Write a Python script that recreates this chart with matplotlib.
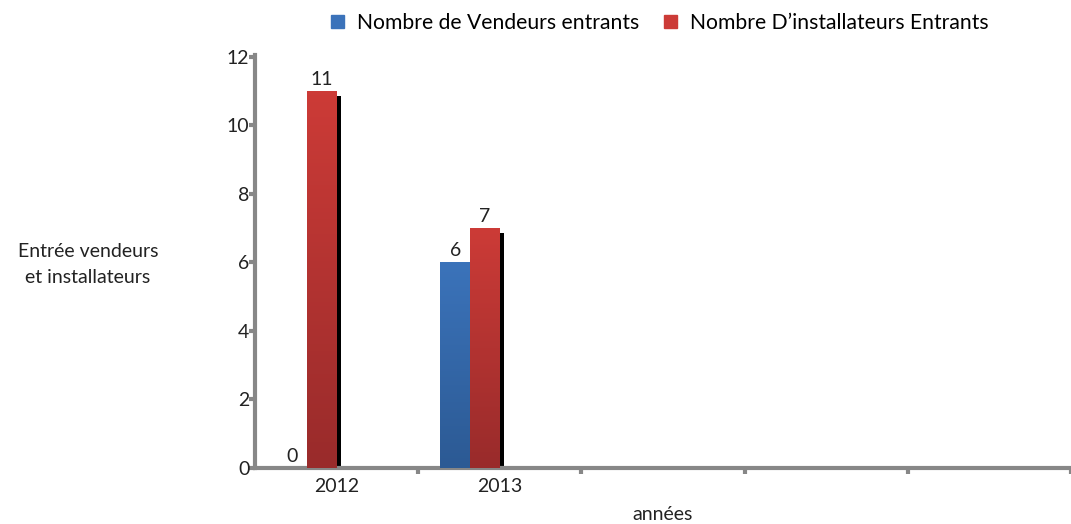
import numpy as np
import matplotlib
matplotlib.use('Agg')
from matplotlib import pyplot as plt
from matplotlib.patches import Patch

plt.rcParams['font.family'] = ['Lato', 'DejaVu Sans']

# donnees
annees = ['2012', '2013', '', '', '']
vendeurs = [0, 6]
installateurs = [11, 7]
serie_noms = ['Nombre de Vendeurs entrants', "Nombre D\u2019installateurs Entrants"]
yticks = [0, 2, 4, 6, 8, 10, 12]

bleu_haut, bleu_bas = '#3b73ba', '#2c5a94'
rouge_haut, rouge_bas = '#cc3b37', '#992b2b'
gris = '#878787'
noir_txt = '#222222'


def barre_degrade(ax, x, h, w, c_haut, c_bas):
    """barre avec un degrade vertical et une ombre noire"""
    if h <= 0:
        return
    # ombre
    ax.bar(x + w * 0.13, h - 0.15, width=w, bottom=0, color='black', zorder=2)
    rect = ax.bar(x, h, width=w, color=c_bas, zorder=3)[0]
    grad = np.linspace(0, 1, 100).reshape(-1, 1)
    cmap = matplotlib.colors.LinearSegmentedColormap.from_list('g', [c_bas, c_haut])
    im = ax.imshow(grad, extent=(x - w / 2, x + w / 2, 0, h), origin='lower',
                   cmap=cmap, aspect='auto', zorder=4)
    im.set_clip_path(rect)


fig = plt.figure(figsize=(10.71, 5.24), dpi=100)
ax = fig.add_axes([0.238, 0.107, 0.762, 0.788])

w = 0.183
for i in range(len(vendeurs)):
    cr = i - 0.09          # centre barre rouge
    cb = cr - w            # centre barre bleue
    barre_degrade(ax, cb, vendeurs[i], w, bleu_haut, bleu_bas)
    barre_degrade(ax, cr, installateurs[i], w, rouge_haut, rouge_bas)
    ax.text(cb, vendeurs[i] + 0.1, str(vendeurs[i]), ha='center', va='bottom',
            fontsize=14, color=noir_txt, zorder=5)
    ax.text(cr, installateurs[i] + 0.1, str(installateurs[i]), ha='center', va='bottom',
            fontsize=14, color=noir_txt, zorder=5)

ax.set_xlim(-0.5, 4.475)
ax.set_ylim(0, 12.05)
ax.set_xticks(np.arange(len(annees)) + 0.5)
ax.set_xticklabels([])
ax.set_xticks(np.arange(len(annees)), minor=True)
ax.set_xticklabels(annees, minor=True)
ax.tick_params(axis='x', which='minor', length=0, pad=7, labelsize=14, labelcolor=noir_txt)
ax.tick_params(axis='x', which='major', length=4, width=3, color=gris)
ax.set_yticks(yticks)
ax.tick_params(axis='y', length=4, width=3, color=gris, pad=0, labelsize=14, labelcolor=noir_txt)

for s in ['top', 'right']:
    ax.spines[s].set_visible(False)
for s in ['left', 'bottom']:
    ax.spines[s].set_color(gris)
    ax.spines[s].set_linewidth(3)
ax.spines['left'].set_bounds(0, 12.05)

ax.set_xlabel('ann\u00e9es', fontsize=14, color=noir_txt, labelpad=8)
fig.text(0.082, 0.495, 'Entr\u00e9e vendeurs\net installateurs', ha='center', va='center',
         fontsize=14, color=noir_txt, linespacing=1.6)

# legende
poignees = [Patch(color=bleu_haut), Patch(color=rouge_haut)]
fig.legend(poignees, serie_noms, loc='upper center', bbox_to_anchor=(0.616, 1.012), ncol=2,
           frameon=False, fontsize=15.2, handlelength=0.6, handleheight=0.6,
           columnspacing=1.2, handletextpad=0.6)

plt.savefig('out.png', dpi=100)
